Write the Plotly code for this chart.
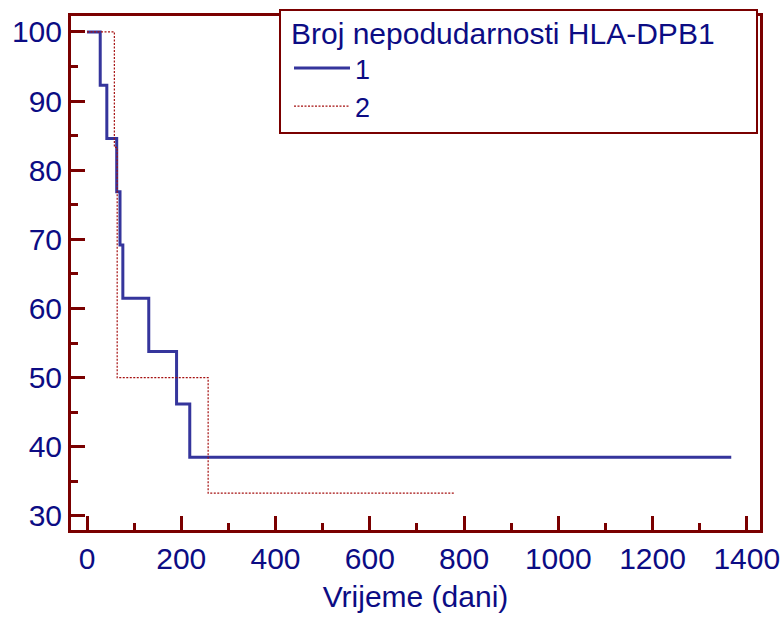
import plotly.graph_objects as go

# Kaplan-Meier style survival data (days, % survival)
group1_time = [0, 28, 42, 63, 70, 76, 131, 190, 218, 1367]
group1_surv = [100, 92.3, 84.6, 76.9, 69.2, 61.5, 53.8, 46.2, 38.5, 38.5]
group2_time = [0, 58, 64, 257, 780]
group2_surv = [100, 83.3, 50, 33.3, 33.3]
series_names = ["1", "2"]
legend_title = "Broj nepodudarnosti HLA-DPB1"
x_title = "Vrijeme (dani)"
x_ticks = [0, 200, 400, 600, 800, 1000, 1200, 1400]
y_ticks = [30, 40, 50, 60, 70, 80, 90, 100]

FRAME = "#7a0000"
TEXT = "#0c0c84"
FONT = "Liberation Sans, Arial, sans-serif"

W, H = 782, 619
L, R, T, B = 71, 22, 16, 89
pw, ph = W - L - R, H - T - B

fig = go.Figure()
fig.add_trace(go.Scatter(x=group1_time, y=group1_surv, mode="lines", name=series_names[0],
                         line=dict(shape="hv", color="#35359c", width=3)))
fig.add_trace(go.Scatter(x=group2_time, y=group2_surv, mode="lines", name=series_names[1],
                         line=dict(shape="hv", color="#a51010", width=1.2, dash="2px,1.5px")))

def px_x(p):
    return (p - L) / pw

def px_y(p):
    return (H - B - p) / ph

# legend box (drawn as a shape; the legend itself is transparent)
fig.add_shape(type="rect", xref="paper", yref="paper",
              x0=px_x(280), x1=px_x(757), y0=px_y(133), y1=px_y(10),
              fillcolor="white", line=dict(color=FRAME, width=2), layer="above")

axis_common = dict(
    showgrid=False, zeroline=False, showline=True, linecolor=FRAME, linewidth=3,
    mirror=True, ticks="inside", ticklen=14, tickwidth=2.5, tickcolor=FRAME,
    tickfont=dict(family=FONT, size=30, color=TEXT), automargin=False,
)

fig.update_layout(
    width=W, height=H,
    margin=dict(l=L, r=R, t=T, b=B, autoexpand=False),
    paper_bgcolor="white", plot_bgcolor="white",
    font=dict(family=FONT, color=TEXT),
    xaxis=dict(range=[-34, 1428], tickvals=x_ticks,
               minor=dict(ticks="inside", ticklen=7, tickwidth=2.5, tickcolor=FRAME, dtick=100, tick0=0),
               title=dict(text=x_title, font=dict(family=FONT, size=30, color=TEXT), standoff=12),
               **axis_common),
    yaxis=dict(range=[27.97, 102.3], tickvals=y_ticks,
               minor=dict(ticks="inside", ticklen=7, tickwidth=2.5, tickcolor=FRAME, dtick=5, tick0=0),
               **axis_common),
    legend=dict(
        x=px_x(289), y=px_y(5), xanchor="left", yanchor="top",
        bgcolor="rgba(0,0,0,0)", borderwidth=0, itemwidth=56,
        title=dict(text=legend_title, font=dict(family=FONT, size=30, color=TEXT)),
        font=dict(family=FONT, size=27, color=TEXT),
    ),
    showlegend=True,
)

fig.write_html("out.html", config={"displayModeBar": False},
               post_script="document.body.style.margin='0';document.body.style.overflow='hidden';")
